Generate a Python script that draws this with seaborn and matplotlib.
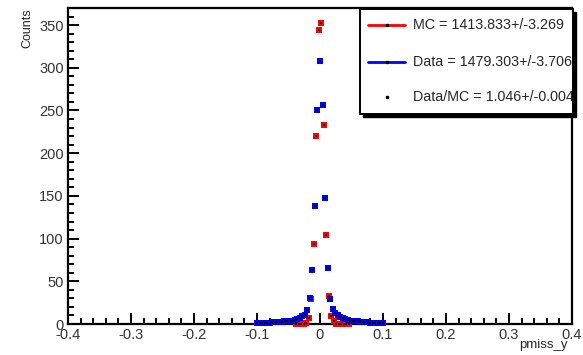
import matplotlib
matplotlib.use("Agg")
import matplotlib.pyplot as plt
from matplotlib.patches import Rectangle
from matplotlib.lines import Line2D
from matplotlib.ticker import MultipleLocator
import pandas as pd
import seaborn as sns

# Simulation (MC) histogram: bin centres and counts
mc_x = [-0.038, -0.034, -0.030, -0.026, -0.022, -0.018, -0.014, -0.010,
        -0.006, -0.002, 0.002, 0.006, 0.010, 0.014, 0.018, 0.022,
        0.026, 0.030, 0.034, 0.038, 0.042, 0.046]
mc_counts = [0, 0, 0, 0, 1, 7, 29, 94,
             220, 344, 352, 233, 104, 33, 9, 3,
             0, 0, 0, 0, 0, 0]

# Measured data histogram: bin centres and counts
data_x = [-0.100, -0.096, -0.092, -0.088, -0.084, -0.080, -0.076, -0.072,
          -0.068, -0.064, -0.060, -0.056, -0.052, -0.048, -0.044, -0.040,
          -0.036, -0.032, -0.028, -0.024, -0.020, -0.016, -0.012, -0.008,
          -0.004, 0.000, 0.004, 0.008, 0.012, 0.016, 0.020, 0.024,
          0.028, 0.032, 0.036, 0.040, 0.044, 0.048, 0.052, 0.056,
          0.060, 0.064, 0.068, 0.072, 0.076, 0.080, 0.084, 0.088,
          0.092, 0.096, 0.100]
data_counts = [1, 1, 1, 1, 1, 1, 2, 2,
               2, 2, 2, 3, 3, 3, 4, 5,
               6, 7, 9, 11, 16, 30, 63, 138,
               250, 308, 257, 148, 65, 29, 18, 13,
               10, 8, 7, 6, 5, 4, 4, 3,
               3, 2, 2, 2, 2, 1, 1, 1,
               1, 1, 1]

x_ticks = [-0.4, -0.3, -0.2, -0.1, 0.0, 0.1, 0.2, 0.3, 0.4]
x_tick_labels = ["-0.4", "-0.3", "-0.2", "-0.1", "0", "0.1", "0.2", "0.3", "0.4"]
y_ticks = [0, 50, 100, 150, 200, 250, 300, 350]
legend_labels = ["MC = 1413.833+/-3.269",
                 "Data = 1479.303+/-3.706",
                 "Data/MC = 1.046+/-0.004"]

mc_df = pd.DataFrame({"pmiss_y": mc_x, "counts": mc_counts})
data_df = pd.DataFrame({"pmiss_y": data_x, "counts": data_counts})

sns.set_style("white")
plt.rcParams["font.family"] = ["Liberation Sans", "DejaVu Sans"]

W, H = 583, 355
fig = plt.figure(figsize=(W / 100, H / 100), dpi=100)
ax = fig.add_axes([68 / W, 1 - 324 / H, (572 - 68) / W, (324 - 8) / H])

# Coloured square markers with a small black marker on top
for df, col in ((mc_df, "#ff0000"), (data_df, "#0000ff")):
    sns.scatterplot(data=df, x="pmiss_y", y="counts", color=col, marker="s",
                    s=18, linewidth=0, ax=ax, clip_on=False, zorder=3,
                    legend=False)
    sns.scatterplot(data=df, x="pmiss_y", y="counts", color="black", marker="s",
                    s=2.4, linewidth=0, ax=ax, clip_on=False, zorder=4,
                    legend=False)

ax.set_xlim(-0.4, 0.4)
ax.set_ylim(0, 370)
ax.set_xticks(x_ticks)
ax.set_xticklabels(x_tick_labels)
ax.set_yticks(y_ticks)
ax.set_yticklabels([str(v) for v in y_ticks])
ax.xaxis.set_minor_locator(MultipleLocator(0.02))
ax.yaxis.set_minor_locator(MultipleLocator(10))
ax.tick_params(which="both", direction="in", width=1.4, colors="black",
               labelsize=10.5, top=False, right=False, bottom=True, left=True,
               labelcolor="#333333")
ax.tick_params(which="major", length=8, pad=3)
ax.tick_params(which="minor", length=4)
ax.set_xlabel("")
ax.set_ylabel("")
for sp in ax.spines.values():
    sp.set_visible(True)
    sp.set_linewidth(1.6)
    sp.set_color("black")

fig.text(27 / W, 1 - 8 / H, "Counts", rotation=90, ha="center", va="top",
         fontsize=9)
fig.text(568 / W, 1 - 345 / H, "pmiss_y", ha="right", va="center", fontsize=9.5)

# Legend box with a solid drop shadow
bx0, by0, bx1, by1 = 360, 9, 573, 114
sh = 3
fig.patches.append(Rectangle(((bx0 + sh) / W, 1 - (by1 + sh) / H),
                             (bx1 - bx0) / W, (by1 - by0) / H,
                             transform=fig.transFigure, facecolor="black",
                             edgecolor="black", zorder=5))
fig.patches.append(Rectangle((bx0 / W, 1 - by1 / H),
                             (bx1 - bx0) / W, (by1 - by0) / H,
                             transform=fig.transFigure, facecolor="white",
                             edgecolor="black", linewidth=1.4, zorder=6))

rows_y = [25, 62, 97]
line_colors = ["#ff0000", "#0000ff", None]
for yy, lab, lc in zip(rows_y, legend_labels, line_colors):
    fy = 1 - yy / H
    if lc is not None:
        fig.lines.append(Line2D([368 / W, 405 / W], [fy, fy],
                                transform=fig.transFigure, color=lc,
                                linewidth=2.0, zorder=7))
    fig.lines.append(Line2D([386.5 / W], [fy], transform=fig.transFigure,
                            color="black", marker="s", markersize=2.0,
                            linestyle="none", zorder=8))
    fig.text(413 / W, fy, lab, ha="left", va="center", fontsize=10.3,
             zorder=9, clip_on=False)

fig.savefig("out.png", dpi=100)
